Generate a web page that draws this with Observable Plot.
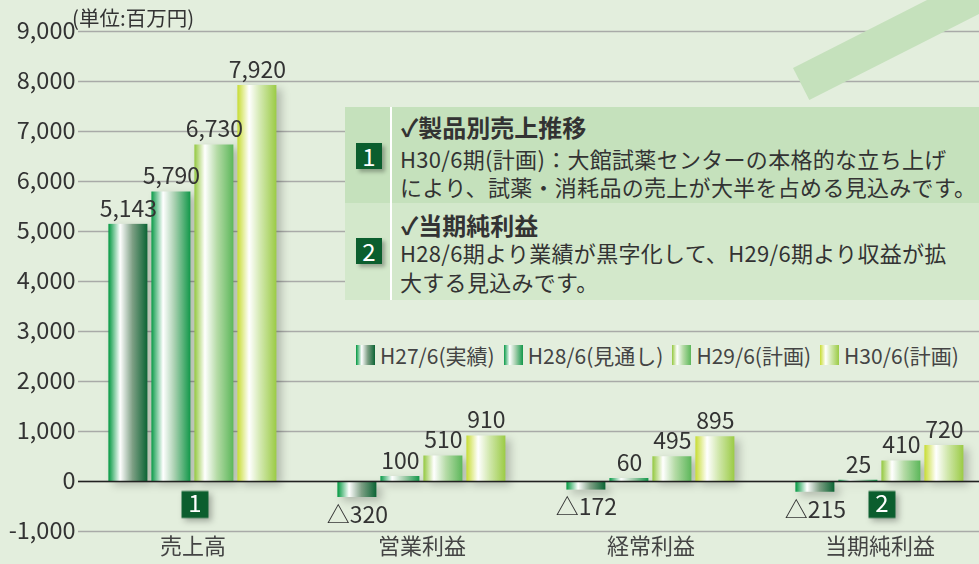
<!DOCTYPE html>
<html><head><meta charset="utf-8">
<script src="https://cdn.jsdelivr.net/npm/d3@7"></script>
<script src="https://cdn.jsdelivr.net/npm/@observablehq/plot@0.6"></script>
<style>
body{margin:0;background:#e3eedd;}
#chart{position:relative;width:979px;height:564px;overflow:hidden;background:#e3eedd;font-family:"Noto Sans CJK JP",sans-serif;color:#333;}
#chart svg.main{position:absolute;left:0;top:0;}
.unit{position:absolute;left:72px;top:3px;font-size:20.5px;color:#333;line-height:28px;white-space:nowrap;}
.band{position:absolute;left:793px;top:68px;width:320px;height:36px;background:#c5e1bc;transform-origin:0 0;transform:rotate(-26.9deg);}
.box{position:absolute;left:345px;top:107px;width:660px;height:193px;}
.row1{position:absolute;left:0;top:0;width:100%;height:96px;background:#c5e1bc;}
.row2{position:absolute;left:0;top:96px;width:100%;height:97px;background:#d3e8cb;}
.sep{position:absolute;left:45px;top:0;width:2px;height:193px;background:#fff;}
.bd{position:absolute;left:11px;width:26px;height:26px;background:#0b5e2e;color:#fff;font-size:24px;line-height:26px;text-align:center;box-shadow:3px 3px 4px rgba(0,0,0,.3);}
.hd{position:absolute;left:56px;font-size:24px;font-weight:bold;line-height:24px;white-space:nowrap;color:#333;}
.tx{position:absolute;left:55px;font-size:22px;line-height:22px;white-space:nowrap;color:#333;letter-spacing:0.3px;}
.legend{position:absolute;left:356px;top:344px;display:flex;align-items:center;font-size:21px;color:#444;white-space:nowrap;line-height:22px;}
.legend .it{display:flex;align-items:center;margin-right:9px;}
.legend .sw{width:19px;height:20px;margin-right:5px;}
</style></head><body>
<div id="chart"></div>
<svg width="0" height="0" style="position:absolute">
  <defs>
    <linearGradient id="g0" x1="0" x2="1" y1="0" y2="0">
      <stop offset="0" stop-color="#00973f"/><stop offset="0.3" stop-color="#ffffff"/><stop offset="0.62" stop-color="#7d9f84"/><stop offset="1" stop-color="#0b6434"/>
    </linearGradient>
    <linearGradient id="g1" x1="0" x2="1" y1="0" y2="0">
      <stop offset="0" stop-color="#0a9a48"/><stop offset="0.3" stop-color="#ffffff"/><stop offset="0.6" stop-color="#a6cfae"/><stop offset="1" stop-color="#12984a"/>
    </linearGradient>
    <linearGradient id="g2" x1="0" x2="1" y1="0" y2="0">
      <stop offset="0" stop-color="#93c83f"/><stop offset="0.27" stop-color="#ffffff"/><stop offset="0.58" stop-color="#b5dba6"/><stop offset="1" stop-color="#5cb75a"/>
    </linearGradient>
    <linearGradient id="g3" x1="0" x2="1" y1="0" y2="0">
      <stop offset="0" stop-color="#c7dc32"/><stop offset="0.3" stop-color="#ffffff"/><stop offset="0.6" stop-color="#d0e7ab"/><stop offset="1" stop-color="#9bcb45"/>
    </linearGradient>
  </defs>
</svg>
<script>
const groups = ["売上高", "営業利益", "経常利益", "当期純利益"];
const series = ["H27/6(実績)", "H28/6(見通し)", "H29/6(計画)", "H30/6(計画)"];
const h27 = [5143, -320, -172, -215];
const h28 = [5790, 100, 60, 25];
const h29 = [6730, 510, 495, 410];
const h30 = [7920, 910, 895, 720];
const yTicks = [-1000, 0, 1000, 2000, 3000, 4000, 5000, 6000, 7000, 8000, 9000];
const badgeGroups = ["売上高", "当期純利益"];
const badgeLabels = ["1", "2"];
const badgeValue = -460;
const unitLabel = "(単位:百万円)";
const notes = [
  {label: "1", head: "✓製品別売上推移", lines: ["H30/6期(計画)：大館試薬センターの本格的な立ち上げ", "により、試薬・消耗品の売上が大半を占める見込みです。"]},
  {label: "2", head: "✓当期純利益", lines: ["H28/6期より業績が黒字化して、H29/6期より収益が拡", "大する見込みです。"]}
];
const gradCss = [
  "linear-gradient(90deg,#00973f 0%,#ffffff 30%,#7d9f84 62%,#0b6434 100%)",
  "linear-gradient(90deg,#0a9a48 0%,#ffffff 30%,#a6cfae 60%,#12984a 100%)",
  "linear-gradient(90deg,#93c83f 0%,#ffffff 27%,#b5dba6 58%,#5cb75a 100%)",
  "linear-gradient(90deg,#c7dc32 0%,#ffffff 30%,#d0e7ab 60%,#9bcb45 100%)"
];

const seriesValues = [h27, h28, h29, h30];
const rows = groups.flatMap((g, i) => series.map((s, j) => ({group: g, series: s, value: seriesValues[j][i], grad: `url(#g${j})`})));
const badges = badgeGroups.map((g, i) => ({group: g, label: badgeLabels[i], y: badgeValue}));
const fmtNum = v => v < 0 ? "△" + (-v).toLocaleString("en-US") : v.toLocaleString("en-US");

const plot = Plot.plot({
  width: 996, height: 564,
  marginLeft: 76.6, marginRight: 0.6, marginTop: 31, marginBottom: 33,
  style: {background: "transparent", maxWidth: "none", fontFamily: "'Noto Sans CJK JP', sans-serif", fontSize: "22px", overflow: "visible"},
  fx: {domain: groups, padding: 0, label: null},
  x: {domain: series, paddingInner: 0.1, paddingOuter: 0.7025, axis: null},
  y: {domain: [-1000, 9000], label: null},
  color: {type: "identity"},
  marks: [
    Plot.ruleY(yTicks, {stroke: "#a9aaa8", strokeWidth: 1.5}),
    Plot.barY(rows, {fx: "group", x: "series", y: "value", fill: "grad"}),
    Plot.ruleY([0], {stroke: "#222", strokeWidth: 1.5}),
    Plot.text(rows.filter(d => d.value >= 0), {fx: "group", x: "series", y: "value", text: d => fmtNum(d.value), dy: -15, fill: "#333", fontSize: 23}),
    Plot.text(rows.filter(d => d.value < 0), {fx: "group", x: "series", y: "value", text: d => fmtNum(d.value), dy: 18, fill: "#333", fontSize: 23}),
    Plot.dot(badges, {fx: "group", y: "y", dx: 2, symbol: "square", r: 15.2, fill: "#0b5e2e", stroke: null}),
    Plot.text(badges, {fx: "group", y: "y", dx: 2, text: "label", fill: "#fff", fontSize: 24}),
    Plot.axisY({ticks: yTicks, tickFormat: d => d.toLocaleString("en-US"), tickSize: 0, tickPadding: 3, fontSize: 23.5, color: "#333", label: null}),
    Plot.axisFx({anchor: "bottom", tickSize: 0, tickPadding: 7, fontSize: 22, color: "#444", label: null})
  ]
});
plot.classList.add("main");
const svg = d3.select(plot);
svg.selectAll('g[aria-label="bar"]').style("filter", "drop-shadow(5px 4px 4px rgba(0,0,0,0.22))");
svg.selectAll('g[aria-label="dot"]').style("filter", "drop-shadow(3px 3px 3px rgba(0,0,0,0.3))");

const chart = document.getElementById("chart");
chart.appendChild(plot);

const unit = document.createElement("div");
unit.className = "unit"; unit.textContent = unitLabel;
chart.appendChild(unit);

const band = document.createElement("div");
band.className = "band";
chart.appendChild(band);

const box = document.createElement("div");
box.className = "box";
box.innerHTML = `<div class="row1"></div><div class="row2"></div><div class="sep"></div>`;
const badgeTops = [36, 131];
const headCenters = [20, 118];
const lineCenters = [[51, 79], [145, 174]];
notes.forEach((n, i) => {
  const b = document.createElement("div");
  b.className = "bd"; b.textContent = n.label; b.style.top = badgeTops[i] + "px";
  box.appendChild(b);
  const h = document.createElement("div");
  h.className = "hd"; h.textContent = n.head; h.style.top = (headCenters[i] - 12) + "px";
  box.appendChild(h);
  n.lines.forEach((l, k) => {
    const e = document.createElement("div");
    e.className = "tx"; e.textContent = l; e.style.top = (lineCenters[i][k] - 11) + "px";
    box.appendChild(e);
  });
});
chart.appendChild(box);

const legend = document.createElement("div");
legend.className = "legend";
series.forEach((s, j) => {
  const it = document.createElement("div");
  it.className = "it";
  it.innerHTML = `<div class="sw" style="background:${gradCss[j]}"></div><span>${s}</span>`;
  legend.appendChild(it);
});
chart.appendChild(legend);
</script>
</body></html>
